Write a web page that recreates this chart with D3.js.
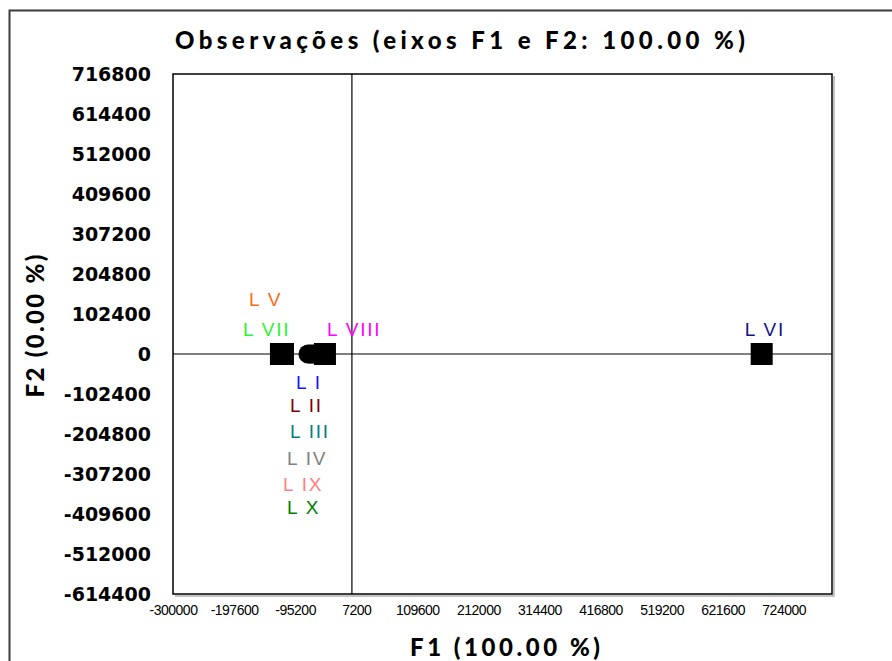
<style>
body {margin:0; background:#fff;}
#chart {display:block; background:#fff;}
#chart .ytick text {font-family:'DejaVu Sans'; font-weight:bold; font-size:19px; fill:#000;}
#chart .xtick text {font-family:'Liberation Sans'; font-size:14px; fill:#000; letter-spacing:-0.5px;}
#chart .obs-label {font-family:'Liberation Sans'; font-size:19px; letter-spacing:1.8px;}
#chart .title {font-family:Lato; font-weight:900; font-size:24px;}
</style>
<script src='https://d3js.org/d3.v7.min.js'></script>
<svg id='chart'></svg><script>
// observations (F1, F2 coordinates)
var obsNames=['L I','L II','L III','L IV','L V','L VI','L VII','L VIII','L IX','L X'];
var f1=[-73700,-70400,-67000,-63700,-115600,687100,-119000,-45200,-60300,-57000];
var f2=[0,0,0,0,0,0,0,0,0,0];
var xTicks=[-300000,-197600,-95200,7200,109600,212000,314400,416800,519200,621600,724000];
var yTicks=[716800,614400,512000,409600,307200,204800,102400,0,-102400,-204800,-307200,-409600,-512000,-614400];

// styling / layout
var labelColor={'L I':'#1414ff','L II':'#800000','L III':'#008080','L IV':'#808080','L V':'#ff6a13',
  'L VI':'#12128a','L VII':'#2cf52c','L VIII':'#ff00ff','L IX':'#ff8080','L X':'#008000'};
var squareObs=['L V','L VI','L VII','L VIII'];
var labelPos={'L I':[-12,35],'L II':[-20,58],'L III':[-22,84],'L IV':[-27,111],'L IX':[-33,137],'L X':[-31,160],
  'L V':[-34,-48],'L VII':[-38,-18],'L VIII':[2,-18],'L VI':[-17,-18]};

var W=892,H=661,
    pLeft=173,pRight=832,pTop=74,pBottom=594;
var svg=d3.select('#chart').attr('width',W).attr('height',H);

var xScale=d3.scaleLinear().domain([-300000,805000]).range([pLeft,pRight]),
    yScale=d3.scaleLinear().domain([-614400,716800]).range([pBottom,pTop]);

// outer frame (left + top)
svg.append('path').attr('d','M9.5,'+H+'V10.5H'+W)
   .attr('fill','none').attr('stroke','#3c3c3c').attr('stroke-width',2);

// plot frame with a light shadow
svg.append('path').attr('d','M'+(pRight+2)+','+(pTop+2)+'V'+(pBottom+2)+'H'+(pLeft+2))
   .attr('fill','none').attr('stroke','#b0b0b0').attr('stroke-width',1.5);
svg.append('rect').attr('x',pLeft).attr('y',pTop)
   .attr('width',pRight-pLeft).attr('height',pBottom-pTop)
   .attr('fill','#fff').attr('stroke','#000').attr('stroke-width',1.5);

// axes through origin
svg.append('line').attr('x1',pLeft).attr('x2',pRight)
   .attr('y1',yScale(0)).attr('y2',yScale(0)).attr('stroke','#000').attr('stroke-width',1.2);
svg.append('line').attr('y1',pTop).attr('y2',pBottom)
   .attr('x1',xScale(0)).attr('x2',xScale(0)).attr('stroke','#000').attr('stroke-width',1.2);

// tick labels
svg.append('g').attr('class','ytick').attr('transform','translate('+pLeft+',0)')
   .call(d3.axisLeft(yScale).tickValues(yTicks).tickSize(0).tickPadding(22).tickFormat(d=>String(d)))
   .call(g=>g.select('.domain').remove());
svg.append('g').attr('class','xtick').attr('transform','translate(0,'+pBottom+')')
   .call(d3.axisBottom(xScale).tickValues(xTicks).tickSize(0).tickPadding(11).tickFormat(d=>String(d)))
   .call(g=>g.select('.domain').remove());

// titles
svg.append('text').attr('class','title').attr('x',460).attr('y',49)
   .attr('text-anchor','middle').attr('textLength',570).attr('lengthAdjust','spacing')
   .text('Observações (eixos F1 e F2: 100.00 %)');
svg.append('text').attr('class','title').attr('x',505).attr('y',656)
   .attr('text-anchor','middle').attr('textLength',190).attr('lengthAdjust','spacing')
   .text('F1 (100.00 %)');
svg.append('text').attr('class','title')
   .attr('transform','translate(44,326) rotate(-90)')
   .attr('text-anchor','middle').attr('textLength',143).attr('lengthAdjust','spacing')
   .text('F2 (0.00 %)');

// markers
var obs=obsNames.map((n,i)=>({name:n,x:f1[i],y:f2[i]}));
var s=22;
svg.append('g').selectAll('rect').data(obs.filter(d=>squareObs.includes(d.name))).enter()
   .append('rect').attr('x',d=>xScale(d.x)-s/2).attr('y',d=>yScale(d.y)-s/2)
   .attr('width',s).attr('height',s).attr('fill','#000');
svg.append('g').selectAll('circle').data(obs.filter(d=>!squareObs.includes(d.name))).enter()
   .append('circle').attr('cx',d=>xScale(d.x)).attr('cy',d=>yScale(d.y))
   .attr('r',9.5).attr('fill','#000');

// labels
svg.append('g').selectAll('text').data(obs).enter()
   .append('text').attr('class','obs-label')
   .attr('x',d=>xScale(d.x)+labelPos[d.name][0])
   .attr('y',d=>yScale(d.y)+labelPos[d.name][1])
   .attr('fill',d=>labelColor[d.name])
   .text(d=>d.name);
</script>
